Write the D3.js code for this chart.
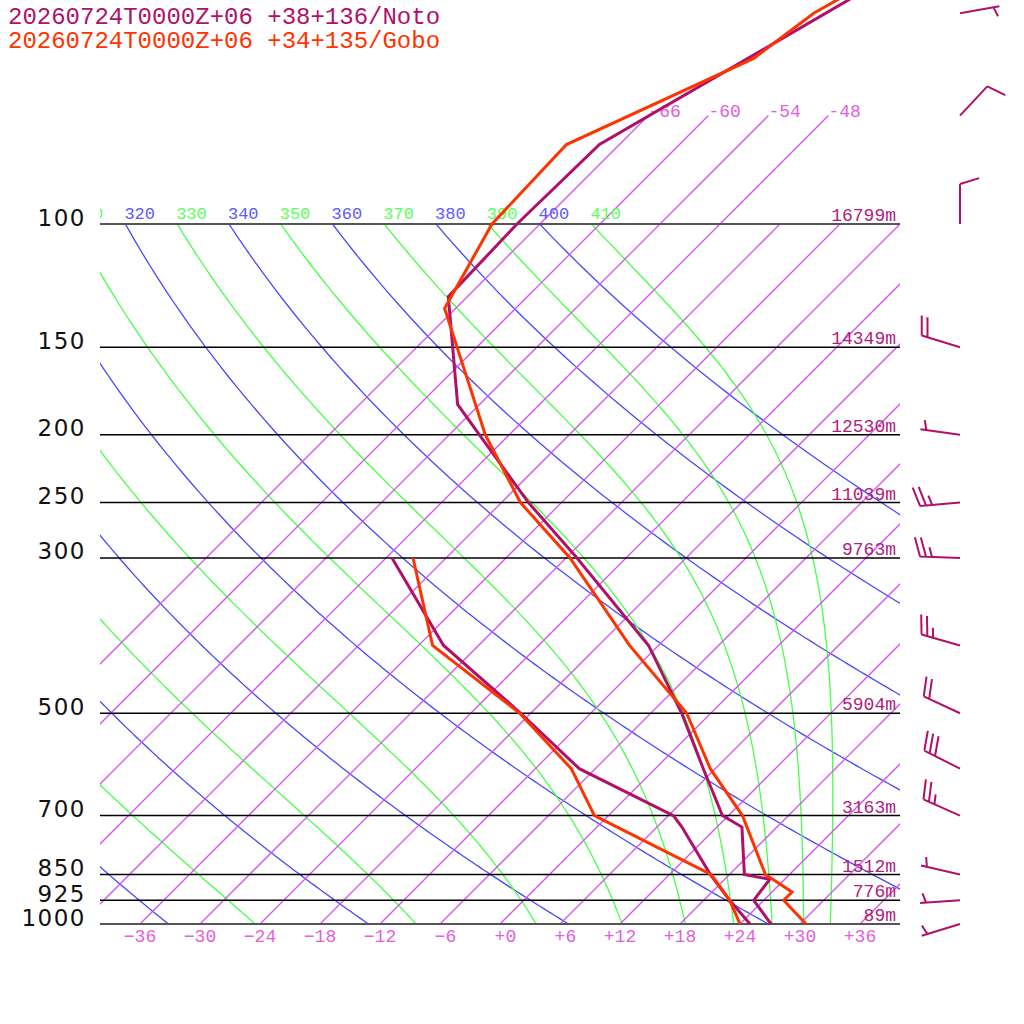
<!DOCTYPE html>
<html>
<head>
<meta charset="utf-8">
<script src="https://cdn.jsdelivr.net/npm/d3@7"></script>
<style>
  body { margin: 0; background: #fff; }
  svg { display: block; }
</style>
</head>
<body>
<svg id="chart" width="1024" height="1024"></svg>
<script>
// Skew-T log-p sounding, two stations

const TITLES = ['20260724T0000Z+06 +38+136/Noto', '20260724T0000Z+06 +34+135/Gobo'];
const NOTO_COLOR = '#b0106a';
const GOBO_COLOR = '#ff3300';

// isobars and their standard heights
const ISOBARS = [100, 150, 200, 250, 300, 500, 700, 850, 925, 1000];
const HEIGHTS = ['16799m', '14349m', '12530m', '11039m', '9763m', '5904m', '3163m', '1512m', '776m', '89m'];

// isotherms (degC)
const ISOTHERMS = [-66, -60, -54, -48, -42, -36, -30, -24, -18, -12, -6, 0, 6, 12, 18, 24, 30, 36];
const UPPER_ISOTHERMS = [-66, -60, -54, -48];
const BOTTOM_LABELS = [-36, -30, -24, -18, -12, -6, 0, 6, 12, 18, 24, 30, 36];

// dry adiabats (theta, K) and pseudo-adiabats (theta-e, K)
const DRY_THETA = [240, 260, 280, 300, 320, 340, 360, 380, 400];
const MOIST_THETA = [250, 270, 290, 310, 330, 350, 370, 390, 410];

// Noto sounding
const NOTO_T_P = [1000, 925, 863, 850, 727, 700, 600, 500, 400, 300, 250, 200, 181, 127, 100, 77, 30];
const NOTO_T = [27.1, 23.0, 22.5, 19.5, 14.5, 11.4, 4.8, -2.9, -13.0, -28.9, -39.3, -51.0, -56.2, -67.9, -68.3, -68.0, -47.3];
const NOTO_TD_P = [1000, 925, 850, 727, 700, 600, 500, 400, 300];
const NOTO_TD = [25.0, 20.6, 16.1, 8.5, 6.5, -7.6, -19.0, -33.5, -47.4];

// Gobo sounding
const GOBO_T_P = [1000, 925, 900, 850, 700, 600, 500, 400, 300, 250, 200, 132, 100, 77, 58, 50, 30];
const GOBO_T = [30.6, 26.0, 26.0, 21.6, 13.4, 5.5, -2.4, -14.9, -29.6, -40.1, -50.4, -67.1, -70.8, -71.3, -61.2, -59.7, -48.0];
const GOBO_TD_P = [1000, 925, 850, 700, 600, 500, 400, 300];
const GOBO_TD = [24.0, 20.6, 16.2, -1.4, -8.4, -19.1, -34.6, -45.3];

// Noto winds (direction deg, speed kt)
const WIND_P = [1000, 925, 850, 700, 600, 500, 400, 300, 250, 200, 150, 100, 70, 50];
const WIND_DIR = [253, 266, 283, 294, 297, 295, 286, 272, 265, 278, 287, 0, 43, 80];
const WIND_SPD = [5, 5, 5, 25, 30, 20, 25, 25, 25, 5, 20, 10, 10, 5];

const svg = d3.select('#chart');
const MONO = '"Liberation Mono", "DejaVu Sans Mono", monospace';
const ISO_COLOR = '#d455ec';
const DRY_COLOR = '#4848ff';
const MOIST_COLOR = '#48ff48';
const GRID_W = 1.3;

// scales: log-p vertical, temperature skewed 45 degrees
const y = d3.scaleLog().domain([1000, 100]).range([924, 224]);
const xT = d3.scaleLinear().domain([-40, 40]).range([100, 900]);
const skewX = (t, p) => xT(t) + (y(1000) - y(p));

const defs = svg.append('defs');
defs.append('clipPath').attr('id', 'clip-main')
  .append('rect').attr('x', 100).attr('y', 224).attr('width', 800).attr('height', 700);
defs.append('clipPath').attr('id', 'clip-lab')
  .append('rect').attr('x', 100).attr('y', 190).attr('width', 800).attr('height', 34);

// thermodynamics for adiabats
const Rd = 287.0, Cp = 1004.0, Lv = 2.501e6, EPS = 0.622, KAPPA = Rd / Cp;
function satMix(p, T) {
  const tc = T - 273.15;
  const es = 6.112 * Math.exp(17.67 * tc / (tc + 243.5));
  return EPS * es / Math.max(p - es, 1e-6);
}
function moistRate(p, T) {
  const rs = satMix(p, T);
  return (Rd * T + Lv * rs) / (Cp + Lv * Lv * rs * EPS / (Rd * T * T)) / p;
}
const topX = th => skewX(th * Math.pow(0.1, KAPPA) - 273.15, 100);

const grid = svg.append('g').attr('clip-path', 'url(#clip-main)');
const line = d3.line().x(d => skewX(d[1], d[0])).y(d => y(d[0]));
const pSteps = d3.range(100, 1001, 5);

// dry adiabats
DRY_THETA.forEach(th => {
  const pts = pSteps.map(p => [p, th * Math.pow(p / 1000, KAPPA) - 273.15]);
  grid.append('path').attr('d', line(pts))
    .attr('fill', 'none').attr('stroke', DRY_COLOR).attr('stroke-width', GRID_W);
});

// pseudo-adiabats, integrated downward from 100 hPa
MOIST_THETA.forEach(th => {
  let T = th * Math.pow(0.1, KAPPA);
  let p = 100;
  const dp = 5;
  const pts = [[p, T - 273.15]];
  while (p < 1000) {
    const k1 = moistRate(p, T);
    const k2 = moistRate(p + dp / 2, T + k1 * dp / 2);
    const k3 = moistRate(p + dp / 2, T + k2 * dp / 2);
    const k4 = moistRate(p + dp, T + k3 * dp);
    T += dp * (k1 + 2 * k2 + 2 * k3 + k4) / 6;
    p += dp;
    pts.push([p, T - 273.15]);
  }
  grid.append('path').attr('d', line(pts))
    .attr('fill', 'none').attr('stroke', MOIST_COLOR).attr('stroke-width', GRID_W);
});

// isotherms
ISOTHERMS.forEach(t => {
  grid.append('path').attr('d', line([[1000, t], [100, t]]))
    .attr('fill', 'none').attr('stroke', ISO_COLOR).attr('stroke-width', GRID_W);
});
UPPER_ISOTHERMS.forEach(t => {
  svg.append('path').attr('d', line([[100, t], [70, t]]))
    .attr('fill', 'none').attr('stroke', ISO_COLOR).attr('stroke-width', GRID_W);
  svg.append('text')
    .attr('x', skewX(t, 70)).attr('y', y(70) + 1)
    .attr('font-family', MONO).attr('font-size', 18).attr('fill', '#e060e0')
    .text(t);
});

// theta labels along 100 hPa (only those that reach the plot)
const labG = svg.append('g').attr('clip-path', 'url(#clip-lab)');
DRY_THETA.filter(th => topX(th) > 60).forEach(th => {
  labG.append('text')
    .attr('x', topX(th) - 1).attr('y', 219)
    .attr('font-family', MONO).attr('font-size', 17).attr('fill', '#5a5aff')
    .text(th);
});
MOIST_THETA.filter(th => topX(th) > 60).forEach(th => {
  labG.append('text')
    .attr('x', topX(th) - 1).attr('y', 219)
    .attr('font-family', MONO).attr('font-size', 17).attr('fill', '#5aff5a')
    .text(th);
});

// isobars
ISOBARS.forEach((p, i) => {
  const edge = (p === 100 || p === 1000);
  svg.append('line')
    .attr('x1', 100).attr('x2', 900).attr('y1', y(p)).attr('y2', y(p))
    .attr('stroke', edge ? '#555' : '#000').attr('stroke-width', edge ? 2 : 1.5);
  svg.append('text')
    .attr('x', 86).attr('y', y(p) + 1.5)
    .attr('text-anchor', 'end')
    .attr('font-family', '"DejaVu Sans", sans-serif').attr('font-size', 23)
    .attr('letter-spacing', 1.5).attr('fill', '#111')
    .text(p);
  svg.append('text')
    .attr('x', 896).attr('y', y(p) - 3)
    .attr('text-anchor', 'end')
    .attr('font-family', MONO).attr('font-size', 18).attr('fill', '#b0207a')
    .text(HEIGHTS[i]);
});

// bottom isotherm labels
const fmt = d3.format('+');
BOTTOM_LABELS.forEach(t => {
  svg.append('text')
    .attr('x', xT(t)).attr('y', 942)
    .attr('text-anchor', 'middle')
    .style('white-space', 'pre')
    .attr('font-family', MONO).attr('font-size', 18).attr('fill', '#e060e0')
    .text(fmt(t).padStart(3, ' '));
});

// sounding profiles
function profile(ps, ts, color) {
  const pts = ps.map((p, i) => [p, ts[i]]);
  svg.append('path').attr('d', line(pts))
    .attr('fill', 'none').attr('stroke', color).attr('stroke-width', 3)
    .attr('stroke-linejoin', 'miter');
}
profile(NOTO_TD_P, NOTO_TD, NOTO_COLOR);
profile(NOTO_T_P, NOTO_T, NOTO_COLOR);
profile(GOBO_TD_P, GOBO_TD, GOBO_COLOR);
profile(GOBO_T_P, GOBO_T, GOBO_COLOR);

// wind barbs
const BARB_X = 960, STAFF = 40, FULL = 20, HALF = 10, GAP = 6, TILT = 17 * Math.PI / 180;
WIND_P.forEach((p, i) => {
  const th = WIND_DIR[i] * Math.PI / 180;
  const ux = Math.sin(th), uy = -Math.cos(th);
  const px = -uy, py = ux;
  const vx = Math.cos(TILT) * px + Math.sin(TILT) * ux;
  const vy = Math.cos(TILT) * py + Math.sin(TILT) * uy;
  const bx = BARB_X, by = y(p);
  const tx = bx + STAFF * ux, ty = by + STAFF * uy;
  let d = `M${bx},${by}L${tx},${ty}`;
  const nFull = Math.floor(WIND_SPD[i] / 10);
  const half = WIND_SPD[i] % 10 >= 5;
  let k = nFull === 0 ? 1 : 0;
  for (let j = 0; j < nFull; j++, k++) {
    const sx = tx - k * GAP * ux, sy = ty - k * GAP * uy;
    d += `M${sx},${sy}l${FULL * vx},${FULL * vy}`;
  }
  if (half) {
    const sx = tx - k * GAP * ux, sy = ty - k * GAP * uy;
    d += `M${sx},${sy}l${HALF * vx},${HALF * vy}`;
  }
  svg.append('path').attr('d', d)
    .attr('fill', 'none').attr('stroke', NOTO_COLOR).attr('stroke-width', 2);
});

// titles
TITLES.forEach((t, i) => {
  svg.append('text')
    .attr('x', 8).attr('y', 24 + i * 24)
    .attr('font-family', MONO).attr('font-size', 24)
    .attr('fill', i === 0 ? NOTO_COLOR : GOBO_COLOR)
    .style('white-space', 'pre')
    .text(t);
});
</script>
</body>
</html>
